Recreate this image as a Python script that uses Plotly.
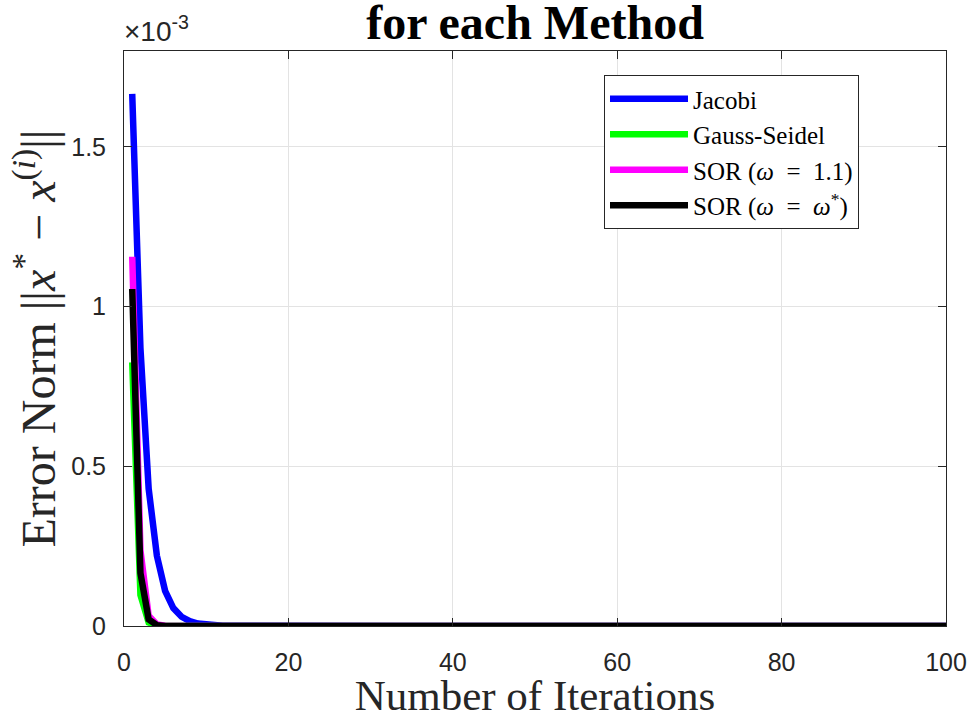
import plotly.graph_objects as go

iterations = list(range(1, 101))

jacobi = [1.666e-3, 0.87e-3, 0.43e-3, 0.22e-3, 0.11e-3, 0.056e-3, 0.029e-3, 0.015e-3,
          0.0078e-3, 0.004e-3, 0.0021e-3, 0.0011e-3, 0.0006e-3, 0.0003e-3, 0.00016e-3,
          0.00008e-3] + [0.0] * 84
gauss_seidel = [0.825e-3, 0.097e-3, 0.011e-3, 0.0013e-3, 0.00015e-3] + [0.0] * 95
sor_11 = [1.156e-3, 0.237e-3, 0.032e-3, 0.0045e-3, 0.0006e-3, 0.0001e-3] + [0.0] * 94
sor_opt = [1.055e-3, 0.166e-3, 0.021e-3, 0.0025e-3, 0.0003e-3] + [0.0] * 95

sp = "\u2002"
series_names = ["Jacobi", "Gauss-Seidel",
                f"SOR (<i>ω</i>{sp}={sp}1.1)",
                f"SOR (<i>ω</i>{sp}={sp}<i>ω</i><sup>*</sup>)"]
series_values = [jacobi, gauss_seidel, sor_11, sor_opt]
series_colors = ["#0000ff", "#00ff00", "#ff00ff", "#000000"]

x_ticks = [0, 20, 40, 60, 80, 100]
y_tickvals = [0, 0.5e-3, 1e-3, 1.5e-3]
y_ticktext = ["0", "0.5", "1", "1.5"]

fig = go.Figure()
for name, vals, col in zip(series_names, series_values, series_colors):
    fig.add_trace(go.Scatter(x=iterations, y=vals, mode="lines", name=name,
                             line=dict(color=col, width=6.5)))

serif = "Liberation Serif"
sans = "Liberation Sans"
axis_col = "#262626"
grid_col = "#e3e3e3"

fig.update_layout(
    width=974, height=719,
    margin=dict(l=124, r=28, t=51, b=93, autoexpand=False),
    paper_bgcolor="white", plot_bgcolor="white",
    showlegend=True,
    title=dict(text="<b>for each Method</b>", x=(124 + 946) / 2 / 974, xanchor="center",
               y=1 - 22 / 719, yanchor="middle", automargin=False,
               font=dict(family=serif, size=48, color="black")),
    legend=dict(x=(604 - 124) / 822, y=(626 - 75) / 575, xanchor="left", yanchor="top",
                bgcolor="white", bordercolor=axis_col, borderwidth=1,
                font=dict(family=serif, size=25, color="black"),
                itemwidth=78, tracegroupgap=0),
    xaxis=dict(range=[0, 100], tickvals=x_ticks, ticks="inside", ticklen=8,
               tickcolor=axis_col, showline=True, linecolor=axis_col, linewidth=1,
               mirror="ticks", showgrid=True, gridcolor=grid_col, zeroline=False,
               automargin=False,
               tickfont=dict(family=sans, size=25, color=axis_col),
               ticklabelstandoff=14,
               title=dict(text="Number of Iterations", standoff=0,
                          font=dict(family=serif, size=43, color=axis_col))),
    yaxis=dict(range=[0, 1.8e-3], tickvals=y_tickvals, ticktext=y_ticktext,
               ticks="inside", ticklen=8, tickcolor=axis_col, showline=True,
               linecolor=axis_col, linewidth=1, mirror="ticks", showgrid=True,
               gridcolor=grid_col, zeroline=False, automargin=False,
               tickfont=dict(family=sans, size=25, color=axis_col),
               ticklabelstandoff=12),
)

fig.add_annotation(x=0, y=0.5, xref="paper", yref="paper", xanchor="center", yanchor="middle",
                   xshift=-90, textangle=-90, showarrow=False,
                   text="Error Norm ||<i>x</i><sup>*</sup> − <i>x</i><sup>(<i>i</i>)</sup>||",
                   font=dict(family=serif, size=48, color=axis_col))

fig.add_annotation(x=0, y=1, xref="paper", yref="paper", xanchor="left", yanchor="bottom",
                   xshift=-2, yshift=2, text="×10<sup>-3</sup>", showarrow=False,
                   font=dict(family=sans, size=28, color=axis_col))

fig.write_html("out.html", post_script="document.body.style.margin='0px';",
               config={"displayModeBar": False})
